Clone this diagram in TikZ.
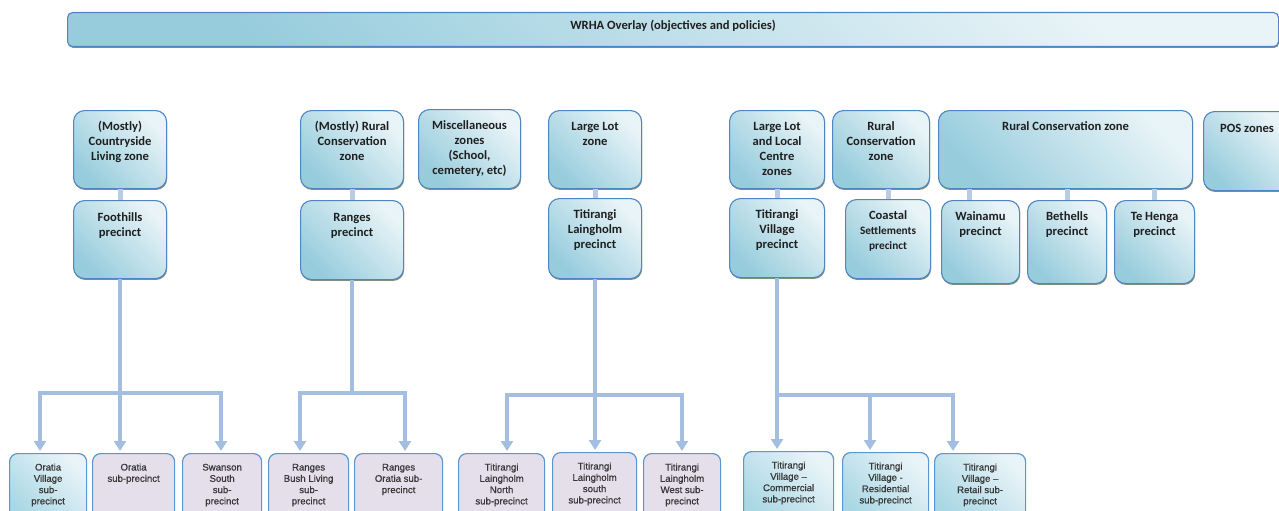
\documentclass[tikz,border=0pt]{standalone}
\usepackage{fontspec}
\newfontfamily\calb{Carlito}
\newfontfamily\botf{Liberation Sans}[FakeBold=0.8]
\usetikzlibrary{arrows.meta,shadows}
\definecolor{bord}{HTML}{4F86C2}
\definecolor{boxl}{HTML}{E9F4F8}
\definecolor{boxd}{HTML}{96CCDC}
\definecolor{boxd2}{HTML}{A9D7E4}
\definecolor{lav}{HTML}{E5DFEC}
\definecolor{bbord}{HTML}{5B96D0}
\definecolor{link}{HTML}{A3BEE0}
\definecolor{slink}{HTML}{B8CCE4}
\definecolor{shad}{HTML}{5E6B45}
\definecolor{txt}{HTML}{1F1F1F}
\definecolor{btxt}{HTML}{383838}
\newcommand{\tbx}[4]{\parbox[c][#2][t]{#1}{\centering\calb\bfseries\fontsize{12.6}{15}\selectfont\color{txt}\vspace*{#3}\strut #4}}
\newcommand{\bbx}[3]{\parbox[c][#2][t]{#1}{\centering\botf\fontsize{9.6}{11.3}\selectfont\color{btxt}\vspace*{9pt}\strut #3}}
\tikzset{
  tbox/.style={rounded corners=11pt, draw=bord, line width=1.1pt, top color=boxl, bottom color=boxd, shading angle=-45, inner sep=0pt, anchor=north west,
    drop shadow={shadow xshift=0.6pt, shadow yshift=-1.4pt, fill=shad, opacity=0.75}},
  topbar/.style={tbox, rounded corners=5pt},
  lbox/.style={rounded corners=8pt, draw=bbord, line width=1.2pt, fill=lav, inner sep=0pt, anchor=north west},
  bbox/.style={rounded corners=8pt, draw=bbord, line width=1.2pt, top color=boxl, bottom color=boxd2, shading angle=-45, inner sep=0pt, anchor=north west},
  slk/.style={draw=slink, line width=5pt},
  conn/.style={draw=link, line width=4pt},
  arr/.style={conn, -{Triangle[width=12pt,length=10pt]}, shorten >=2pt},
  arr2/.style={conn, line join=miter, {Triangle[width=12pt,length=10pt]}-{Triangle[width=12pt,length=10pt]}, shorten >=2pt, shorten <=2pt}
}
\begin{document}
\begin{tikzpicture}[x=1pt,y=-1pt]
\useasboundingbox (0,0) rectangle (1279,511);
% top bar
\node[topbar] (wrha) at (67,12) {\tbx{1211pt}{34pt}{6.5pt}{WRHA Overlay (objectives and policies)}};
% zone row
\node[tbox] (cl) at (73,110) {\tbx{93pt}{78pt}{9.5pt}{(Mostly)\\Countryside\\Living zone}};
\node[tbox] (mr) at (300,110) {\tbx{103pt}{78pt}{9.5pt}{(Mostly) Rural\\Conservation\\zone}};
\node[tbox] (misc) at (418,109) {\tbx{102pt}{79pt}{9.5pt}{Miscellaneous\\zones\\(School,\\cemetery, etc)}};
\node[tbox] (ll) at (548,110) {\tbx{93pt}{78pt}{9.5pt}{Large Lot\\zone}};
\node[tbox] (lllc) at (729,110) {\tbx{95pt}{78pt}{9.5pt}{Large Lot\\and Local\\Centre\\zones}};
\node[tbox] (rcs) at (832,110) {\tbx{97pt}{78pt}{9.5pt}{Rural\\Conservation\\zone}};
\node[tbox] (rcb) at (938,110) {\tbx{254pt}{78pt}{9.5pt}{Rural Conservation zone}};
\node[tbox] (pos) at (1203,111) {\tbx{87pt}{79pt}{10.5pt}{POS zones}};
% precinct row
\node[tbox] (foot) at (73,200) {\tbx{93pt}{78pt}{10pt}{Foothills\\precinct}};
\node[tbox] (rng) at (300,200) {\tbx{103pt}{79pt}{10pt}{Ranges\\precinct}};
\node[tbox] (tlp) at (548,198) {\tbx{93pt}{80pt}{9.5pt}{Titirangi\\Laingholm\\precinct}};
\node[tbox] (tvp) at (729,198) {\tbx{95pt}{79pt}{9.5pt}{Titirangi\\Village\\precinct}};
\node[tbox] (cs) at (845,199) {\tbx{85pt}{79pt}{9.5pt}{Coastal\\{\fontsize{11.3}{15}\selectfont Settlements}\\{\fontsize{11.3}{15}\selectfont precinct}}};
\node[tbox] (wai) at (941,200) {\tbx{78pt}{83pt}{9.5pt}{Wainamu\\precinct}};
\node[tbox] (bet) at (1027,200) {\tbx{79pt}{83pt}{9.5pt}{Bethells\\precinct}};
\node[tbox] (teh) at (1114,200) {\tbx{80pt}{83pt}{9.5pt}{Te Henga\\precinct}};
% sub-precinct row
\node[bbox] (ov) at (9,453) {\bbx{77pt}{68pt}{Oratia\\Village\\sub-\\precinct}};
\node[lbox] (os) at (92,453) {\bbx{82pt}{68pt}{Oratia\\sub-precinct}};
\node[lbox] (ss) at (182,453) {\bbx{79pt}{68pt}{Swanson\\South\\sub-\\precinct}};
\node[lbox] (rb) at (268,453) {\bbx{80pt}{68pt}{Ranges\\Bush Living\\sub-\\precinct}};
\node[lbox] (ro) at (354,453) {\bbx{88pt}{68pt}{Ranges\\Oratia sub-\\precinct}};
\node[lbox] (tln) at (458,453) {\bbx{86pt}{68pt}{Titirangi\\Laingholm\\North\\sub-precinct}};
\node[lbox] (tls) at (552,452) {\bbx{84pt}{68pt}{Titirangi\\Laingholm\\south\\sub-precinct}};
\node[lbox] (tlw) at (643,453) {\bbx{77pt}{68pt}{Titirangi\\Laingholm\\West sub-\\precinct}};
\node[bbox] (tvc) at (743,451) {\bbx{90pt}{70pt}{Titirangi\\Village –\\Commercial\\sub-precinct}};
\node[bbox] (tvr) at (842,452) {\bbx{86pt}{69pt}{Titirangi\\Village -\\Residential\\sub-precinct}};
\node[bbox] (tvt) at (934,453) {\bbx{91pt}{68pt}{Titirangi\\Village –\\Retail sub-\\precinct}};
% short links zone -> precinct
\draw[slk] (cl.south) -- (foot.north);
\draw[slk] (mr.south) -- (rng.north);
\draw[slk] (ll.south) -- (tlp.north);
\draw[slk] (lllc.south) -- (tvp.north);
\draw[slk] (cs.north) -- (cs.north |- rcs.south);
\coordinate (wt) at ([xshift=-11pt]wai.north);
\draw[slk] (wt) -- (wt |- rcb.south);
\draw[slk] (bet.north) -- (bet.north |- rcb.south);
\draw[slk] (teh.north) -- (teh.north |- rcb.south);
% Foothills branch
\coordinate (j1l) at (40,393);
\coordinate (j1r) at (221,393);
\draw[arr] (foot.south) -- (foot.south |- os.north);
\draw[arr2] (j1l |- ov.north) -- (j1l) -- (j1r) -- (j1r |- ss.north);
% Ranges branch
\coordinate (j2l) at (300,393);
\coordinate (j2r) at (405,393);
\draw[conn] (rng.south) -- (rng.south |- j2l);
\draw[arr2] (j2l |- rb.north) -- (j2l) -- (j2r) -- (j2r |- ro.north);
% Titirangi Laingholm branch
\coordinate (j3l) at (507,395);
\coordinate (j3r) at (682,395);
\draw[arr] (tlp.south) -- (tlp.south |- tls.north);
\draw[arr2] (j3l |- tln.north) -- (j3l) -- (j3r) -- (j3r |- tlw.north);
% Titirangi Village branch
\coordinate (j4) at (tvp.south |- j3l);
\coordinate (j4m) at (870,395);
\coordinate (j4r) at (953,395);
\draw[arr] (tvp.south) -- (tvp.south |- tvc.north);
\draw[conn] (j4) -- (j4r);
\draw[arr] (j4m) -- (j4m |- tvr.north);
\draw[arr, line join=miter] (j4m) -- (j4r) -- (j4r |- tvt.north);
\end{tikzpicture}
\end{document}
